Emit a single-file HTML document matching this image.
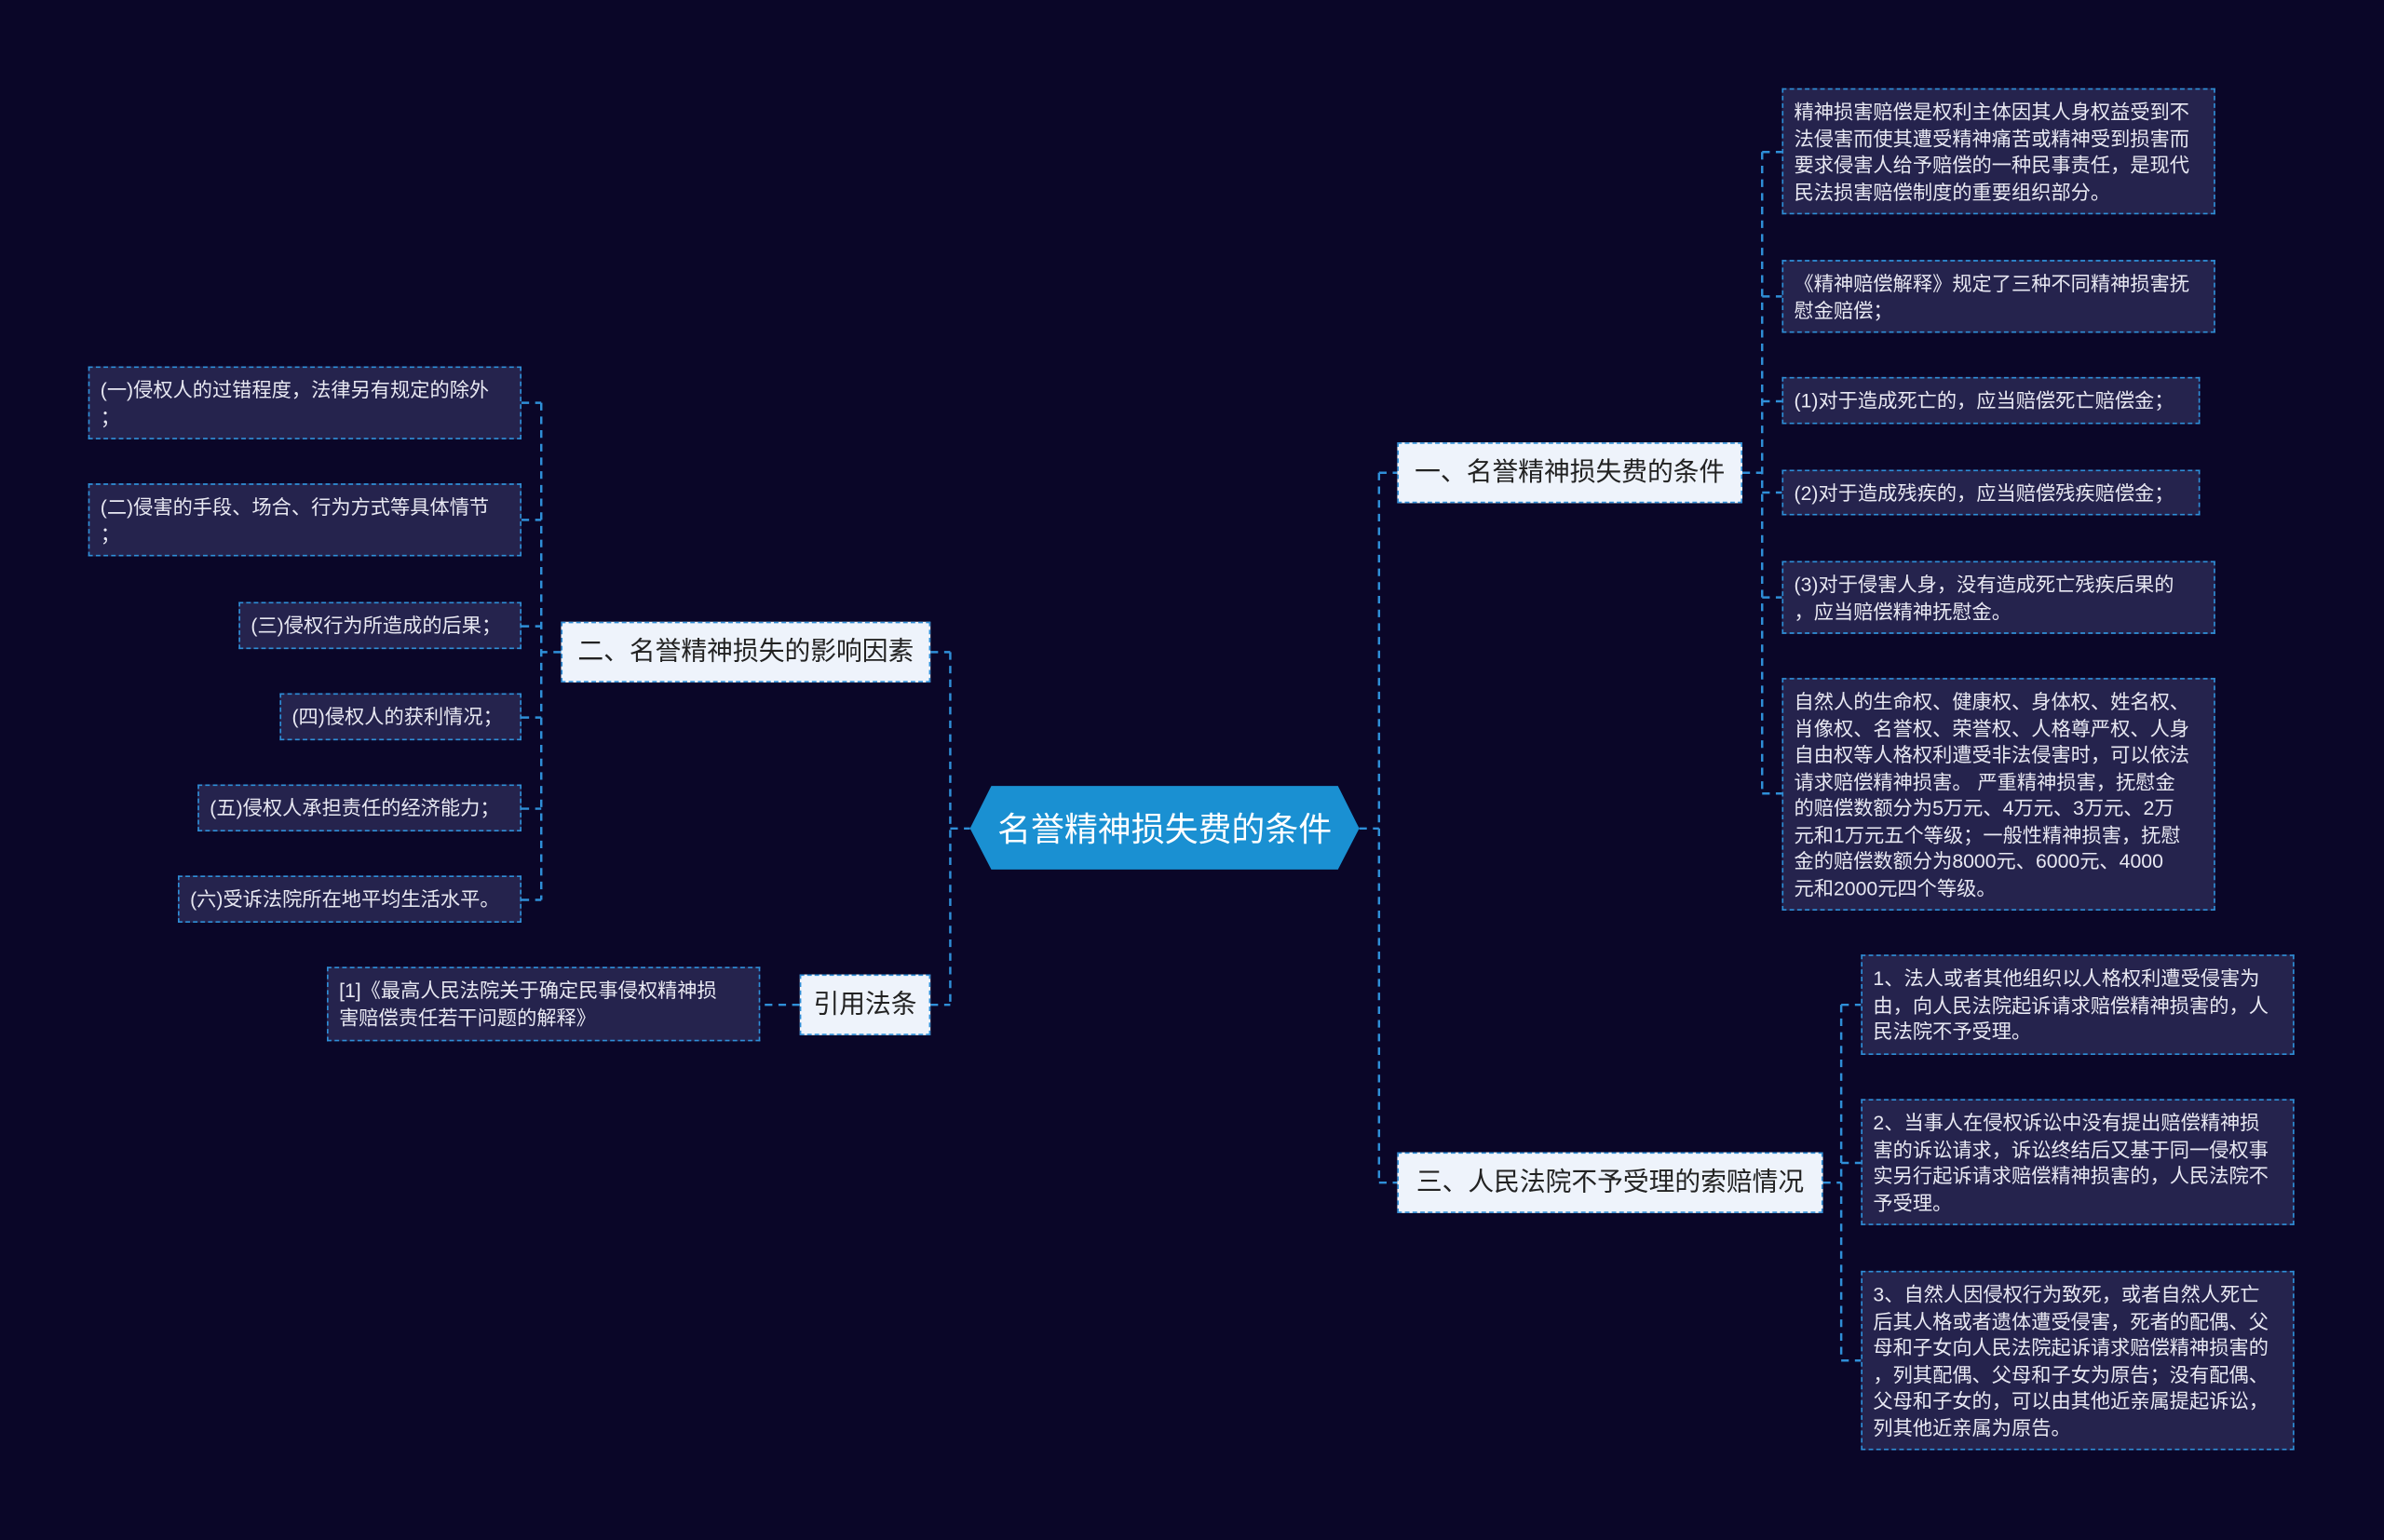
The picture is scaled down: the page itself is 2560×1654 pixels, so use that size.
<!DOCTYPE html>
<html><head><meta charset="utf-8"><style>
html,body{margin:0;padding:0;background:#0a0628;}
body{width:2560px;height:1654px;overflow:hidden;}
#c{position:absolute;left:0;top:0;width:1568px;height:1013px;transform:scale(1.63265);transform-origin:0 0;font-family:"Liberation Sans","Noto Sans CJK SC",sans-serif;}
.l{position:absolute;box-sizing:border-box;background:#25234d;border:1px dashed #2f8fd8;color:#e8e8f2;font-size:13px;line-height:17.5px;padding:6px 6px 0 7px;white-space:nowrap;}
.n{position:absolute;box-sizing:border-box;background:#eef3fb;border:1px dashed #2f8fd8;color:#222;font-size:17px;line-height:38px;text-align:center;white-space:nowrap;}
svg{position:absolute;left:0;top:0;}
</style></head><body><div id="c">
<svg width="1568" height="1013"><g stroke="#2f8fd8" stroke-width="1.5" stroke-dasharray="5,4" fill="none">
<path d="M907 311V778M894 545H907M907 311H919M907 778H919"/>
<path d="M1146 311H1159M1159 100V522M1159 100H1172M1159 195H1172M1159 264H1172M1159 324H1172M1159 393H1172M1159 522H1172"/>
<path d="M1199 778H1211M1211 661V895M1211 661H1224M1211 765H1224M1211 895H1224"/>
<path d="M625 429V661M625 545H638M612 429H625M612 661H625"/>
<path d="M369 429H356M356 265V592M343 265H356M343 342H356M343 412H356M343 472H356M343 532H356M343 592H356"/>
<path d="M526 661H500"/>
</g>
<polygon points="652,517 880,517 894,545 880,572 652,572 638,545" fill="#1a90d2"/>
<text x="766" y="553" fill="#fff" font-size="22" text-anchor="middle" font-family="Liberation Sans, Noto Sans CJK SC, sans-serif">名誉精神损失费的条件</text>
</svg>
<div class="n" style="left:919px;top:291px;width:227px;height:40px">一、名誉精神损失费的条件</div>
<div class="n" style="left:919px;top:758px;width:280px;height:40px">三、人民法院不予受理的索赔情况</div>
<div class="n" style="left:369px;top:409px;width:243px;height:40px">二、名誉精神损失的影响因素</div>
<div class="n" style="left:526px;top:641px;width:86px;height:40px">引用法条</div>
<div class="l" style="left:1172px;top:58px;width:285px;height:83px">精神损害赔偿是权利主体因其人身权益受到不<br>法侵害而使其遭受精神痛苦或精神受到损害而<br>要求侵害人给予赔偿的一种民事责任，是现代<br>民法损害赔偿制度的重要组织部分。</div>
<div class="l" style="left:1172px;top:171px;width:285px;height:48px">《精神赔偿解释》规定了三种不同精神损害抚<br>慰金赔偿；</div>
<div class="l" style="left:1172px;top:248px;width:275px;height:31px">(1)对于造成死亡的，应当赔偿死亡赔偿金；</div>
<div class="l" style="left:1172px;top:309px;width:275px;height:30px">(2)对于造成残疾的，应当赔偿残疾赔偿金；</div>
<div class="l" style="left:1172px;top:369px;width:285px;height:48px">(3)对于侵害人身，没有造成死亡残疾后果的<br>，应当赔偿精神抚慰金。</div>
<div class="l" style="left:1172px;top:446px;width:285px;height:153px">自然人的生命权、健康权、身体权、姓名权、<br>肖像权、名誉权、荣誉权、人格尊严权、人身<br>自由权等人格权利遭受非法侵害时，可以依法<br>请求赔偿精神损害。 严重精神损害，抚慰金<br>的赔偿数额分为5万元、4万元、3万元、2万<br>元和1万元五个等级；一般性精神损害，抚慰<br>金的赔偿数额分为8000元、6000元、4000<br>元和2000元四个等级。</div>
<div class="l" style="left:1224px;top:628px;width:285px;height:66px">1、法人或者其他组织以人格权利遭受侵害为<br>由，向人民法院起诉请求赔偿精神损害的，人<br>民法院不予受理。</div>
<div class="l" style="left:1224px;top:723px;width:285px;height:83px">2、当事人在侵权诉讼中没有提出赔偿精神损<br>害的诉讼请求，诉讼终结后又基于同一侵权事<br>实另行起诉请求赔偿精神损害的，人民法院不<br>予受理。</div>
<div class="l" style="left:1224px;top:836px;width:285px;height:118px">3、自然人因侵权行为致死，或者自然人死亡<br>后其人格或者遗体遭受侵害，死者的配偶、父<br>母和子女向人民法院起诉请求赔偿精神损害的<br>，列其配偶、父母和子女为原告；没有配偶、<br>父母和子女的，可以由其他近亲属提起诉讼，<br>列其他近亲属为原告。</div>
<div class="l" style="left:58px;top:241px;width:285px;height:48px">(一)侵权人的过错程度，法律另有规定的除外<br>；</div>
<div class="l" style="left:58px;top:318px;width:285px;height:48px">(二)侵害的手段、场合、行为方式等具体情节<br>；</div>
<div class="l" style="left:157px;top:396px;width:186px;height:31px">(三)侵权行为所造成的后果；</div>
<div class="l" style="left:184px;top:456px;width:159px;height:31px">(四)侵权人的获利情况；</div>
<div class="l" style="left:130px;top:516px;width:213px;height:31px">(五)侵权人承担责任的经济能力；</div>
<div class="l" style="left:117px;top:576px;width:226px;height:31px">(六)受诉法院所在地平均生活水平。</div>
<div class="l" style="left:215px;top:636px;width:285px;height:49px">[1]《最高人民法院关于确定民事侵权精神损<br>害赔偿责任若干问题的解释》</div>
</div></body></html>
